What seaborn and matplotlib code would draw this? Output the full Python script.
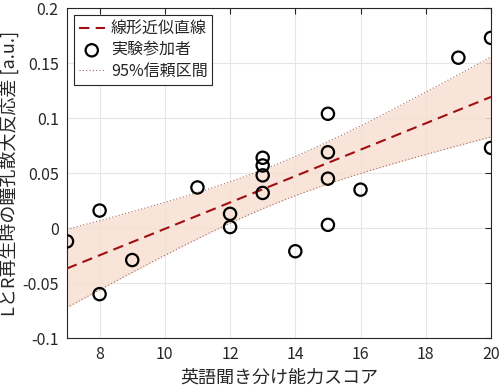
import numpy as np
import pandas as pd
import seaborn as sns
import matplotlib.pyplot as plt

# 英語聞き分け能力スコア vs 瞳孔散大反応差
score = [7, 8, 8, 9, 11, 12, 12, 13, 13, 13, 13, 14, 15, 15, 15, 15, 16, 19, 20, 20]
pupil_diff = [-0.012, 0.016, -0.060, -0.029, 0.037, 0.013, 0.001,
              0.064, 0.057, 0.048, 0.032, -0.021, 0.104, 0.069, 0.045, 0.003,
              0.035, 0.155, 0.173, 0.073]

df = pd.DataFrame({"score": score, "diff": pupil_diff})

# least squares line + 95% confidence band of the mean (t, df = n-2 = 18)
x = df["score"].to_numpy(float)
y = df["diff"].to_numpy(float)
n = len(x)
slope, icpt = np.polyfit(x, y, 1)
resid = y - (slope * x + icpt)
s = np.sqrt((resid ** 2).sum() / (n - 2))
sxx = ((x - x.mean()) ** 2).sum()
t975 = 2.101
xs = np.linspace(7, 20, 100)
ys = slope * xs + icpt
half = t975 * s * np.sqrt(1 / n + (xs - x.mean()) ** 2 / sxx)
fit_df = pd.DataFrame({"x": xs, "y": ys, "lo": ys - half, "hi": ys + half})

sns.set_style("whitegrid")
plt.rcParams["font.family"] = ["Noto Sans CJK JP", "DejaVu Sans"]
plt.rcParams["axes.unicode_minus"] = False

fig = plt.figure(figsize=(5, 3.9), dpi=100)
ax = fig.add_axes([0.134, 0.133, 0.848, 0.846])

ax.fill_between(fit_df["x"], fit_df["lo"], fit_df["hi"],
                color="#f7e0d3", alpha=0.85, linewidth=0, zorder=1)
sns.lineplot(data=fit_df, x="x", y="lo", ax=ax, color="#a07060",
             linestyle=(0, (1, 2)), linewidth=0.8, zorder=2)
sns.lineplot(data=fit_df, x="x", y="hi", ax=ax, color="#a07060",
             linestyle=(0, (1, 2)), linewidth=0.8, zorder=2,
             label="95%信頼区間")
sns.lineplot(data=fit_df, x="x", y="y", ax=ax, color="#a01010",
             linestyle=(0, (5, 3)), linewidth=1.5, zorder=3,
             label="線形近似直線")
sns.scatterplot(data=df, x="score", y="diff", ax=ax, s=78,
                facecolor="none", edgecolor="black", linewidth=1.6,
                zorder=4, label="実験参加者")

ax.set_xlim(7, 20)
ax.set_ylim(-0.1, 0.2)
ax.set_xticks([8, 10, 12, 14, 16, 18, 20])
ax.set_yticks([-0.1, -0.05, 0, 0.05, 0.1, 0.15, 0.2])
ax.set_yticklabels(["-0.1", "-0.05", "0", "0.05", "0.1", "0.15", "0.2"])
ax.tick_params(direction="in", length=4, labelsize=11.5, colors="#262626",
               top=True, right=True, pad=6)
ax.grid(True, color="#e6e6e6", linewidth=0.8)
ax.set_axisbelow(True)
for sp in ax.spines.values():
    sp.set_color("#262626")
    sp.set_linewidth(0.8)

ax.set_xlabel("英語聞き分け能力スコア", fontsize=13, color="#262626", labelpad=4)
ax.set_ylabel("LとR再生時の瞳孔散大反応差 [a.u.]", fontsize=13, color="#262626",
              labelpad=2)

handles, labels = ax.get_legend_handles_labels()
order = [labels.index(l) for l in ["線形近似直線", "実験参加者", "95%信頼区間"]]
leg = ax.legend([handles[i] for i in order], [labels[i] for i in order],
                loc="upper left", fontsize=11.5, frameon=True, fancybox=False,
                edgecolor="#262626", framealpha=1, borderaxespad=0.45,
                handlelength=1.6, handletextpad=0.4, labelspacing=0.27,
                borderpad=0.3)
leg.get_frame().set_linewidth(0.8)

fig.savefig("out.png", dpi=100)
